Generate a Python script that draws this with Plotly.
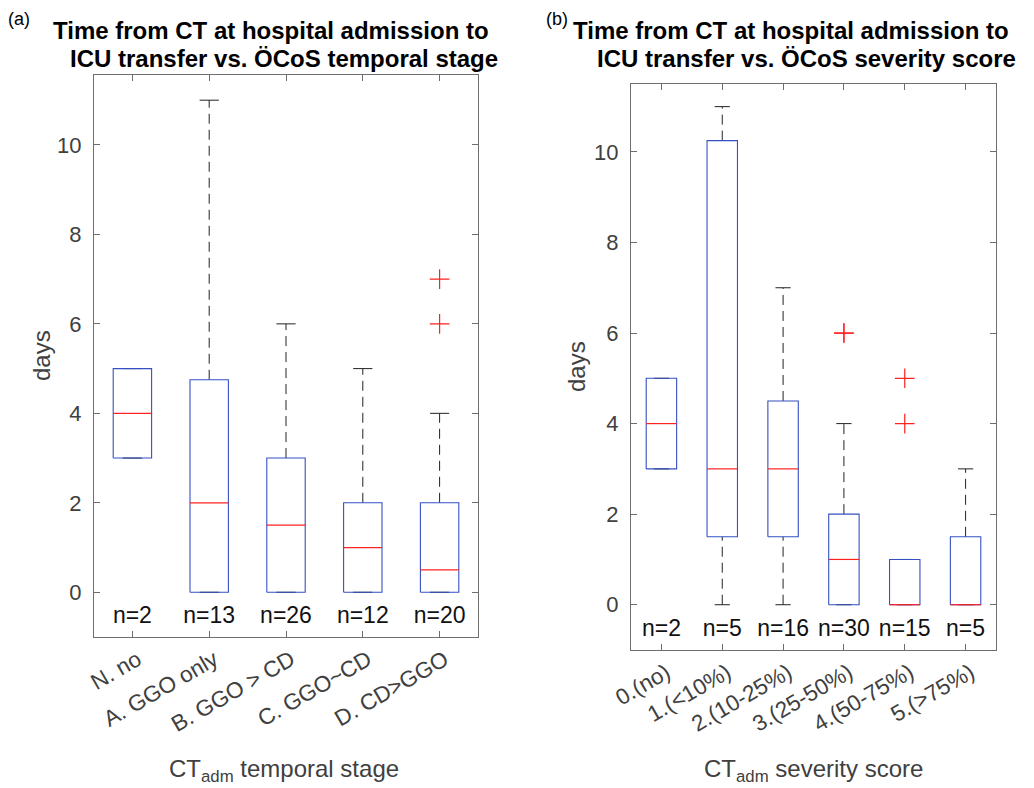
import plotly.graph_objects as go

# ---------------- data ----------------
stage_labels = ["N. no", "A. GGO only", "B. GGO > CD", "C. GGO~CD", "D. CD>GGO"]
stage_n = [2, 13, 26, 12, 20]
stage_q1 = [3, 0, 0, 0, 0]
stage_med = [4, 2, 1.5, 1, 0.5]
stage_q3 = [5, 4.75, 3, 2, 2]
stage_lo = [3, 0, 0, 0, 0]
stage_hi = [5, 11, 6, 5, 4]
stage_out = [[], [], [], [], [6, 7]]

sev_labels = ["0.(no)", "1.(<10%)", "2.(10-25%)", "3.(25-50%)", "4.(50-75%)", "5.(>75%)"]
sev_n = [2, 5, 16, 30, 15, 5]
sev_q1 = [3, 1.5, 1.5, 0, 0, 0]
sev_med = [4, 3, 3, 1, 0, 0]
sev_q3 = [5, 10.25, 4.5, 2, 1, 1.5]
sev_lo = [3, 0, 0, 0, 0, 0]
sev_hi = [5, 11, 7, 4, 1, 3]
sev_out = [[], [], [], [6, 6], [4, 5], []]

W, H = 1034, 788
FONT = "Liberation Sans, Arial, Helvetica, sans-serif"
BLUE = "#3550c4"
RED = "#ff2020"
WHISK = "#222222"
AXC = "#6e6e6e"
TICKC = "#404040"

fig = go.Figure()


def add_panel(xr, yr, q1s, meds, q3s, los, his, outs, ns):
    for i in range(len(q1s)):
        p = i + 1
        q1, md, q3, lo, hi = q1s[i], meds[i], q3s[i], los[i], his[i]
        bw, cw = 0.25, 0.125
        # whiskers (dashed)
        if hi > q3:
            fig.add_trace(go.Scatter(x=[p, p], y=[q3, hi], mode="lines",
                                     line=dict(color=WHISK, width=1, dash="10px,6px"),
                                     xaxis=xr, yaxis=yr, showlegend=False, hoverinfo="skip"))
        if lo < q1:
            fig.add_trace(go.Scatter(x=[p, p], y=[lo, q1], mode="lines",
                                     line=dict(color=WHISK, width=1, dash="10px,6px"),
                                     xaxis=xr, yaxis=yr, showlegend=False, hoverinfo="skip"))
        # caps
        for v in (lo, hi):
            fig.add_trace(go.Scatter(x=[p - cw, p + cw], y=[v, v], mode="lines",
                                     line=dict(color=WHISK, width=1),
                                     xaxis=xr, yaxis=yr, showlegend=False, hoverinfo="skip"))
        # box
        fig.add_trace(go.Scatter(x=[p - bw, p + bw, p + bw, p - bw, p - bw],
                                 y=[q1, q1, q3, q3, q1], mode="lines",
                                 line=dict(color=BLUE, width=1.1),
                                 xaxis=xr, yaxis=yr, showlegend=False, hoverinfo="skip"))
        # median
        fig.add_trace(go.Scatter(x=[p - bw, p + bw], y=[md, md], mode="lines",
                                 line=dict(color=RED, width=1.2),
                                 xaxis=xr, yaxis=yr, showlegend=False, hoverinfo="skip"))
        # outliers
        if outs[i]:
            fig.add_trace(go.Scatter(x=[p] * len(outs[i]), y=outs[i], mode="markers",
                                     marker=dict(symbol="cross-thin", size=14,
                                                 line=dict(color=RED, width=1.2)),
                                     xaxis=xr, yaxis=yr, showlegend=False, hoverinfo="skip"))
    # n labels
    fig.add_trace(go.Scatter(x=list(range(1, len(ns) + 1)), y=[-0.57] * len(ns),
                             mode="text", text=[f"n={k}" for k in ns],
                             textfont=dict(family=FONT, size=23, color="#111111"),
                             xaxis=xr, yaxis=yr, showlegend=False, hoverinfo="skip"))


add_panel("x", "y", stage_q1, stage_med, stage_q3, stage_lo, stage_hi, stage_out, stage_n)
add_panel("x2", "y2", sev_q1, sev_med, sev_q3, sev_lo, sev_hi, sev_out, sev_n)


def px(x):
    return x / W


def py(y):
    return 1 - y / H


axis_common = dict(showline=True, linecolor=AXC, linewidth=1, mirror="ticks",
                   ticks="inside", ticklen=6, tickcolor=AXC, showgrid=False,
                   zeroline=False, automargin=False)
yfont = dict(family=FONT, size=22, color=TICKC)
xfont = dict(family=FONT, size=22.5, color=TICKC)

fig.update_layout(
    template="none",
    width=W, height=H, margin=dict(l=0, r=0, t=0, b=0, pad=0), autosize=False,
    paper_bgcolor="white", plot_bgcolor="white",
    xaxis=dict(domain=[px(94), px(478)], range=[0.5, 5.5],
               tickvals=list(range(1, len(stage_labels) + 1)), ticktext=stage_labels,
               tickangle=-30, anchor="y", tickfont=xfont, ticklabelshift=5, **axis_common),
    yaxis=dict(domain=[py(637), py(74.7)], range=[-1, 11.57],
               tickvals=[0, 2, 4, 6, 8, 10], anchor="x", ticklabelstandoff=7,
               tickfont=yfont, **axis_common),
    xaxis2=dict(domain=[px(631), px(996)], range=[0.5, 6.5],
                tickvals=list(range(1, len(sev_labels) + 1)), ticktext=sev_labels,
                tickangle=-30, anchor="y2", tickfont=xfont, ticklabelshift=5, **axis_common),
    yaxis2=dict(domain=[py(650), py(84)], range=[-1, 11.5],
                tickvals=[0, 2, 4, 6, 8, 10], anchor="x2", ticklabelstandoff=7,
                tickfont=yfont, **axis_common),
)

ann = []
# titles
for (txt, cx, cy) in [
    ("Time from CT at hospital admission to", 271, 30),
    ("ICU transfer vs. ÖCoS temporal stage", 284, 58),
    ("Time from CT at hospital admission to", 791, 30),
    ("ICU transfer vs. ÖCoS severity score", 806, 58),
]:
    ann.append(dict(text=f"<b>{txt}</b>", x=px(cx), y=py(cy), xref="paper", yref="paper",
                    xanchor="center", yanchor="middle", showarrow=False,
                    font=dict(family=FONT, size=24, color="#000000")))
# panel labels
for (txt, cx, cy) in [("(a)", 19, 19), ("(b)", 557, 19)]:
    ann.append(dict(text=txt, x=px(cx), y=py(cy), xref="paper", yref="paper",
                    xanchor="center", yanchor="middle", showarrow=False,
                    font=dict(family=FONT, size=18, color="#000000")))
# y titles
for cx, cy in [(41, 356), (576, 367)]:
    ann.append(dict(text="days", x=px(cx), y=py(cy), xref="paper", yref="paper",
                    xanchor="center", yanchor="middle", showarrow=False, textangle=-90,
                    font=dict(family=FONT, size=24, color=TICKC)))
# x titles
for txt, cx, cy in [("CT<sub>adm</sub> temporal stage", 284, 770),
                    ("CT<sub>adm</sub> severity score", 813, 770)]:
    ann.append(dict(text=txt, x=px(cx), y=py(cy), xref="paper", yref="paper",
                    xanchor="center", yanchor="middle", showarrow=False,
                    font=dict(family=FONT, size=24, color=TICKC)))
fig.update_layout(annotations=ann)

fig.write_html("out.html", config={"displayModeBar": False},
               post_script="document.body.style.margin='0px';document.body.style.overflow='hidden';")
